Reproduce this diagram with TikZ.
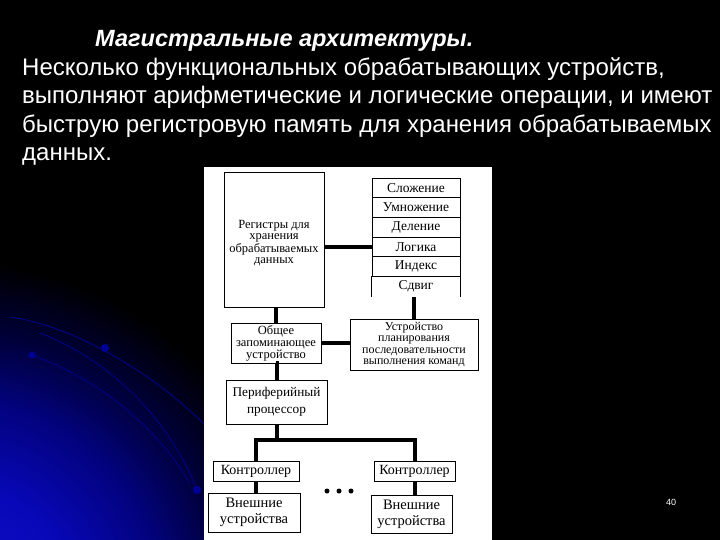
\documentclass[tikz,border=0pt]{standalone}
\usepackage{fontspec}
\setmainfont{Liberation Sans}
\newfontfamily\diagfont{Liberation Serif}
\pgfdeclareradialshading{bluecorner}{\pgfpoint{0bp}{0bp}}{rgb(0bp)=(0.08,0.08,0.8); rgb(9bp)=(0.03,0.03,0.72); rgb(15bp)=(0.01,0.01,0.5); rgb(20bp)=(0,0,0.22); rgb(25bp)=(0,0,0); rgb(50bp)=(0,0,0)}
\begin{document}
\begin{tikzpicture}[x=1pt,y=-1pt,
  box/.style={draw=black, line width=0.8pt, fill=white, align=center, inner sep=0pt, text=black,
    font=\diagfont\fontsize{12.5}{12}\selectfont},
  rowbox/.style={box, minimum width=88pt, minimum height=19.7pt, font=\diagfont\fontsize{13.5}{14}\selectfont},
  link/.style={line width=4pt, black},
  arc/.style={draw=blue!50!black, line width=1pt},
  glow/.style={circle, fill=blue!60!black, inner sep=0pt},
  dotnode/.style={circle, fill=black, inner sep=0pt, minimum size=5pt},
  body/.style={anchor=base west, inner sep=0pt, text=white, font=\fontsize{24}{28}\selectfont},
]
\useasboundingbox (0,0) rectangle (720,540);
\fill[black] (0,0) rectangle (720,540);
\begin{scope}
  \clip (0,0) rectangle (720,540);
  \shade[shading=bluecorner] (-50,610) circle (350pt);
  \draw[arc] (10,317) .. controls (70,325) and (150,370) .. (205,425);
  \draw[arc] (40,333) .. controls (110,360) and (170,420) .. (197,490);
  \draw[arc] (32,355) .. controls (100,380) and (160,430) .. (190,484);
  \node[glow, minimum size=8pt] (g1) at (105,348) {};
  \node[glow, minimum size=7pt] (g2) at (32,355) {};
  \node[glow, minimum size=8pt] (g3) at (197,490) {};
\end{scope}

% text
\node[body, font=\bfseries\itshape\fontsize{23.5}{28}\selectfont] (title) at (95,46.7) {Магистральные архитектуры.};
\node[body] (l1) at (22,76) {Несколько функциональных обрабатывающих устройств,};
\node[body] (l2) at (22,104) {выполняют арифметические и логические операции, и имеют};
\node[body] (l3) at (22,132.5) {быструю регистровую память для хранения обрабатываемых};
\node[body] (l4) at (22,161) {данных.};
\node[anchor=center, text=white, inner sep=0pt, font=\fontsize{9}{10}\selectfont] (pg) at (671,502) {40};

% white panel
\fill[white] (204,167) rectangle (492,540);

% registers
\node[box, minimum width=100pt, minimum height=135pt] (reg) at (274,239.5) {};
\node[fill=white, inner sep=0pt, align=center, font=\diagfont\fontsize{12.5}{11.5}\selectfont] (regtxt) at (274,243) {Регистры для\\хранения\\обрабатываемых\\данных};

% ALU column
\node[rowbox] (r1) at (416,187.85) {Сложение};
\node[rowbox] (r2) at (416,207.55) {Умножение};
\node[rowbox] (r3) at (416,227.25) {Деление};
\node[rowbox] (r4) at (416,246.95) {Логика};
\node[rowbox] (r5) at (416,266.65) {Индекс};
\node[rowbox, draw=none] (r6) at (416,286.35) {Сдвиг};
\draw[line width=0.8pt] (r6.south west) -- (r6.north west) (r6.north east) -- (r6.south east);

% middle boxes
\node[box, minimum width=90pt, minimum height=40pt] (mem) at (276,343) {Общее\\запоминающее\\устройство};
\node[box, minimum width=128pt, minimum height=51pt, font=\diagfont\fontsize{12}{11.5}\selectfont] (plan) at (414,344.5) {Устройство\\планирования\\последовательности\\выполнения команд};
\node[box, minimum width=101pt, minimum height=44pt, font=\diagfont\fontsize{13.3}{17}\selectfont] (per) at (276.5,402) {Периферийный\\процессор};

% bottom
\node[box, minimum width=86pt, minimum height=20pt, font=\diagfont\fontsize{14}{15}\selectfont] (c1) at (256,471) {Контроллер};
\node[box, minimum width=81pt, minimum height=20pt, font=\diagfont\fontsize{14}{15}\selectfont] (c2) at (414.5,471) {Контроллер};
\node[box, minimum width=92pt, minimum height=39pt, font=\diagfont\fontsize{14.5}{16}\selectfont] (d1) at (254,512.5) {Внешние\\устройства};
\node[box, minimum width=81pt, minimum height=38pt, font=\diagfont\fontsize{14.5}{16}\selectfont] (d2) at (411.5,514) {Внешние\\устройства};
\node[dotnode] (dt1) at (327,491) {};
\node[dotnode] (dt2) at (339,491) {};
\node[dotnode] (dt3) at (351,491) {};

% connectors
\coordinate (bus) at (276,440);
\draw[link] (reg.east |- r4.west) -- (r4.west);
\draw[link] (reg.south -| mem.north) -- (mem.north);
\draw[link] (r6.south -| plan.north) -- (plan.north);
\draw[link] (mem.east) -- (mem.east -| plan.west);
\draw[link] (mem.south) -- (mem.south -| per.north) -- (per.north);
\draw[link] (per.south) -- (per.south |- bus);
\draw[link, line join=miter] (c1.north) -- (c1.north |- bus) -- (c2.north |- bus) -- (c2.north);
\draw[link] (c1.south) -- (c1.south |- d1.north);
\draw[link] (c2.south) -- (c2.south |- d2.north);
\end{tikzpicture}
\end{document}
